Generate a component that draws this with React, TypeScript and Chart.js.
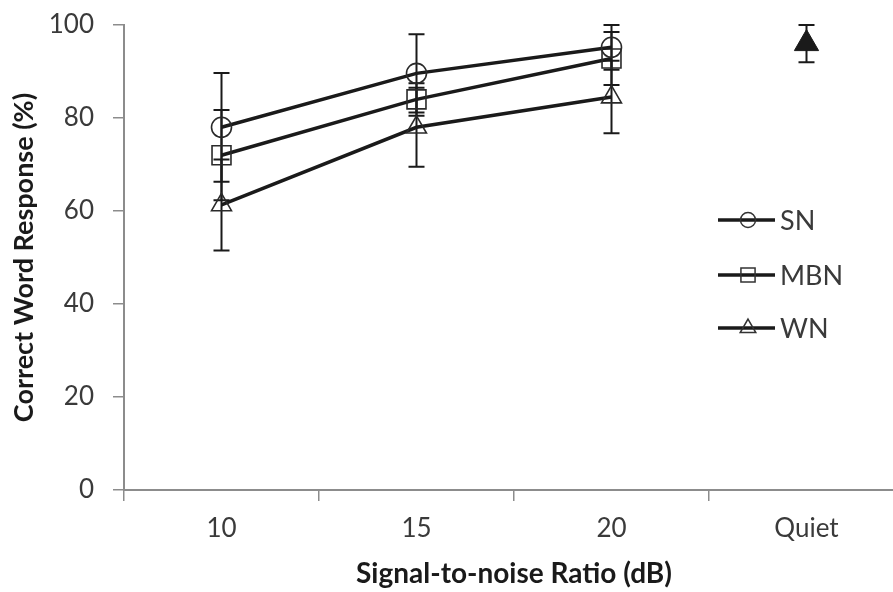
import React, { useEffect, useRef } from 'react';
import { Chart, registerables } from 'chart.js';

Chart.register(...registerables);

const categories = ['10', '15', '20', 'Quiet'];
const seriesNames = ['SN', 'MBN', 'WN'];
const snValues = [78, 89.6, 95.2, null];
const snErrors = [11.7, 8.4, 4.8, null];
const mbnValues = [72, 84, 92.8, null];
const mbnErrors = [9.7, 3.5, 5.7, null];
const wnValues = [61.3, 78, 84.5, null];
const wnErrors = [9.8, 8.5, 7.8, null];
const quietValues = [null, null, null, 96];
const quietErrors = [null, null, null, 4];
const yMin = 0;
const yMax = 100;
const yStep = 20;
const xTitle = 'Signal-to-noise Ratio (dB)';
const yTitle = 'Correct Word Response (%)';

const FONT = 'Lato, "Open Sans", sans-serif';
const INK = '#1a1a1a';
const AXIS = '#8c8c8c';
const TEXT = '#3a3a3a';

function markerPath(ctx: CanvasRenderingContext2D, style: string, x: number, y: number, r: number) {
  ctx.beginPath();
  if (style === 'circle') {
    ctx.arc(x, y, r, 0, Math.PI * 2);
  } else if (style === 'rect') {
    const s = Math.SQRT1_2 * r;
    ctx.rect(x - s, y - s, 2 * s, 2 * s);
  } else {
    const a = (2 * Math.PI) / 3;
    ctx.moveTo(x, y - r);
    ctx.lineTo(x + Math.sin(a) * r, y - Math.cos(a) * r);
    ctx.lineTo(x + Math.sin(2 * a) * r, y - Math.cos(2 * a) * r);
    ctx.closePath();
  }
}

const errorBarPlugin = {
  id: 'errorBars',
  beforeDatasetsDraw(chart: any) {
    const ctx = chart.ctx;
    const yScale = chart.scales.y;
    ctx.save();
    ctx.strokeStyle = INK;
    ctx.lineWidth = 2;
    chart.data.datasets.forEach((ds: any, i: number) => {
      const errs = ds.errors as (number | null)[];
      if (!errs) return;
      const meta = chart.getDatasetMeta(i);
      meta.data.forEach((el: any, j: number) => {
        const v = ds.data[j];
        const e = errs[j];
        if (v == null || e == null) return;
        const x = el.x;
        const yt = yScale.getPixelForValue(v + e);
        const yb = yScale.getPixelForValue(v - e);
        const cap = 8;
        ctx.beginPath();
        ctx.moveTo(x, yt);
        ctx.lineTo(x, yb);
        ctx.moveTo(x - cap, yt);
        ctx.lineTo(x + cap, yt);
        ctx.moveTo(x - cap, yb);
        ctx.lineTo(x + cap, yb);
        ctx.stroke();
      });
    });
    ctx.restore();
  },
};

const legendPlugin = {
  id: 'insideLegend',
  afterDraw(chart: any) {
    const ctx = chart.ctx;
    const area = chart.chartArea;
    const x0 = area.left + 594;
    const x1 = area.left + 651;
    const xm = area.left + 624;
    const xt = area.left + 656;
    const ys = [area.top + 195, area.top + 250, area.top + 303];
    const sizes = [7.5, 10, 9];
    ctx.save();
    seriesNames.forEach((name, i) => {
      const ds = chart.data.datasets[i];
      const y = ys[i];
      ctx.strokeStyle = INK;
      ctx.lineWidth = 3.5;
      ctx.beginPath();
      ctx.moveTo(x0, y);
      ctx.lineTo(x1, y);
      ctx.stroke();
      ctx.lineWidth = 1.5;
      ctx.strokeStyle = '#333';
      markerPath(ctx, ds.pointStyle, xm, y, sizes[i]);
      ctx.stroke();
      ctx.fillStyle = TEXT;
      ctx.font = `27px ${FONT}`;
      ctx.textAlign = 'left';
      ctx.textBaseline = 'middle';
      ctx.fillText(name, xt, y + 1);
    });
    ctx.restore();
  },
};

function lineSet(label: string, data: (number | null)[], errors: (number | null)[], style: string, radius: number) {
  return {
    label,
    data,
    errors,
    borderColor: INK,
    borderWidth: 3.5,
    pointStyle: style,
    pointRadius: radius,
    pointBorderColor: '#2a2a2a',
    pointBorderWidth: 1.6,
    pointBackgroundColor: 'rgba(0,0,0,0)',
    fill: false,
    tension: 0,
  };
}

export default function App() {
  const ref = useRef<HTMLCanvasElement | null>(null);

  useEffect(() => {
    if (!ref.current) return;
    const chart = new Chart(ref.current, {
      type: 'line',
      data: {
        labels: categories,
        datasets: [
          lineSet(seriesNames[0], snValues, snErrors, 'circle', 10),
          lineSet(seriesNames[1], mbnValues, mbnErrors, 'rect', 13.4),
          lineSet(seriesNames[2], wnValues, wnErrors, 'triangle', 11.5),
          {
            label: 'Quiet',
            data: quietValues,
            errors: quietErrors,
            showLine: false,
            pointStyle: 'triangle',
            pointRadius: 14,
            pointBackgroundColor: INK,
            pointBorderColor: INK,
            pointBorderWidth: 1,
            borderColor: INK,
          } as any,
        ],
      },
      options: {
        responsive: false,
        animation: false,
        devicePixelRatio: 1,
        layout: { autoPadding: false, padding: { top: 25, right: 0, bottom: 0, left: 0 } },
        plugins: {
          legend: { display: false },
          tooltip: { enabled: false },
        },
        scales: {
          x: {
            type: 'category',
            offset: true,
            afterFit: (s: any) => {
              s.height = 102;
              s.paddingLeft = 0;
              s.paddingRight = 0;
            },
            grid: {
              display: true,
              drawOnChartArea: false,
              drawTicks: true,
              tickLength: 11,
              color: AXIS,
              lineWidth: 1.5,
              offset: true,
            },
            border: { display: true, color: AXIS, width: 2 },
            ticks: {
              color: TEXT,
              font: { family: FONT, size: 26 },
              padding: 12,
              maxRotation: 0,
            },
            title: {
              display: true,
              text: xTitle,
              color: INK,
              font: { family: FONT, size: 28, weight: 'bold' },
              padding: { top: 0, bottom: 1 },
            },
          },
          y: {
            type: 'linear',
            min: yMin,
            max: yMax,
            afterFit: (s: any) => {
              s.width = 124;
              s.paddingTop = 0;
              s.paddingBottom = 0;
            },
            grid: {
              display: true,
              drawOnChartArea: false,
              drawTicks: true,
              tickLength: 11,
              color: AXIS,
              lineWidth: 1.5,
            },
            border: { display: true, color: AXIS, width: 2 },
            ticks: {
              stepSize: yStep,
              color: TEXT,
              font: { family: FONT, size: 26 },
              padding: 19,
            },
            title: {
              display: true,
              text: yTitle,
              color: INK,
              font: { family: FONT, size: 27, weight: 'bold' },
              padding: { top: 8, bottom: 0 },
            },
          },
        },
      },
      plugins: [errorBarPlugin, legendPlugin],
    } as any);
    return () => chart.destroy();
  }, []);

  return (
    <div style={{ position: 'absolute', left: 0, top: 0, width: 893, height: 592, overflow: 'hidden', background: '#fff' }}>
      <canvas ref={ref} width={904} height={592} style={{ display: 'block', width: 904, height: 592 }} />
    </div>
  );
}
